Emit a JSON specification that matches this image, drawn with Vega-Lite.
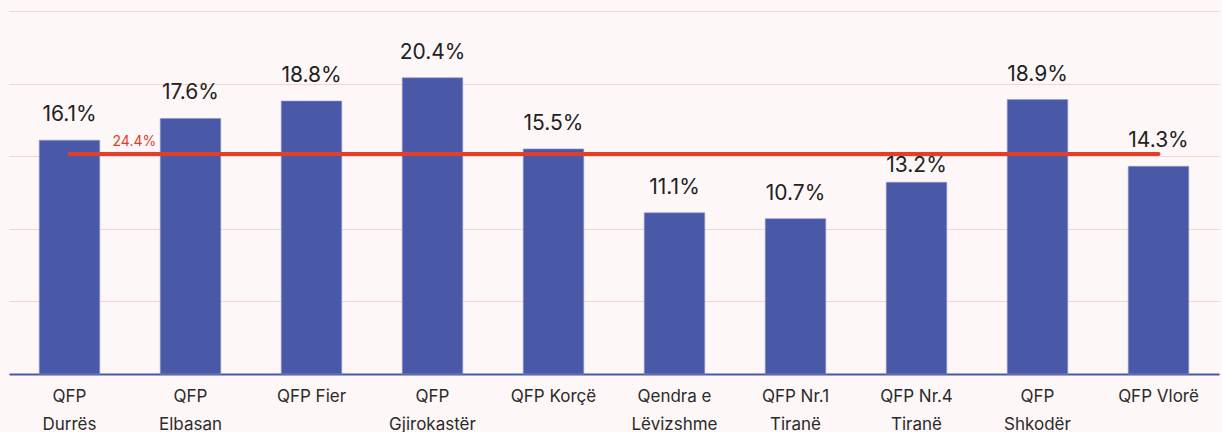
{
  "$schema": "https://vega.github.io/schema/vega-lite/v6.json",
  "width": 1210,
  "height": 363,
  "padding": {"left": 9, "top": 11, "right": 3, "bottom": 0},
  "background": "#fdf7f7",
  "config": {
    "view": {"stroke": null},
    "font": "Inter"
  },
  "datasets": {
    "bars": [
      {"cat": "QFP|Durrës", "value": 16.1, "label": "16.1%"},
      {"cat": "QFP|Elbasan", "value": 17.6, "label": "17.6%"},
      {"cat": "QFP Fier", "value": 18.8, "label": "18.8%"},
      {"cat": "QFP|Gjirokastër", "value": 20.4, "label": "20.4%"},
      {"cat": "QFP Korçë", "value": 15.5, "label": "15.5%"},
      {"cat": "Qendra e|Lëvizshme", "value": 11.1, "label": "11.1%"},
      {"cat": "QFP Nr.1|Tiranë", "value": 10.7, "label": "10.7%"},
      {"cat": "QFP Nr.4|Tiranë", "value": 13.2, "label": "13.2%"},
      {"cat": "QFP|Shkodër", "value": 18.9, "label": "18.9%"},
      {"cat": "QFP Vlorë", "value": 14.3, "label": "14.3%"}
    ],
    "avg": [
      {"start": "QFP|Durrës", "end": "QFP Vlorë", "value": 15.15, "label": "24.4%"}
    ]
  },
  "layer": [
    {
      "data": {"name": "bars"},
      "mark": {"type": "bar", "color": "#4a59a7", "stroke": "#8d97cc", "strokeWidth": 0.6},
      "encoding": {
        "x": {
          "field": "cat", "type": "nominal", "sort": null,
          "scale": {"paddingInner": 0.5, "paddingOuter": 0.25},
          "axis": {
            "title": null, "labelAngle": 0, "ticks": false,
            "labelExpr": "split(datum.label, '|')",
            "labelFontSize": 17, "labelColor": "#2b2b2b", "labelPadding": 14,
            "labelLineHeight": 28, "labelFont": "Inter",
            "domainColor": "#4a59a7", "domainWidth": 2
          }
        },
        "y": {
          "field": "value", "type": "quantitative",
          "scale": {"domain": [0, 25], "nice": false},
          "axis": {
            "title": null, "labels": false, "ticks": false, "domain": false,
            "values": [0, 5, 10, 15, 20, 25],
            "gridColor": "#f6d2d2", "gridWidth": 1
          }
        }
      }
    },
    {
      "data": {"name": "bars"},
      "transform": [{"filter": "datum.value != 13.2"}],
      "mark": {"type": "text", "baseline": "alphabetic", "dy": -19, "fontSize": 21, "color": "#222222", "font": "Inter"},
      "encoding": {
        "x": {"field": "cat", "type": "nominal", "sort": null},
        "y": {"field": "value", "type": "quantitative"},
        "text": {"field": "label"}
      }
    },
    {
      "data": {"name": "bars"},
      "transform": [{"filter": "datum.value == 13.2"}],
      "mark": {"type": "text", "baseline": "alphabetic", "dy": -10, "fontSize": 21, "color": "#222222", "font": "Inter"},
      "encoding": {
        "x": {"field": "cat", "type": "nominal", "sort": null},
        "y": {"field": "value", "type": "quantitative"},
        "text": {"field": "label"}
      }
    },
    {
      "data": {"name": "avg"},
      "mark": {"type": "rule", "color": "#e0402a", "strokeWidth": 4, "strokeCap": "round"},
      "encoding": {
        "x": {"field": "start", "type": "nominal", "sort": null},
        "x2": {"field": "end"},
        "y": {"field": "value", "type": "quantitative"}
      }
    },
    {
      "data": {"name": "avg"},
      "mark": {"type": "text", "align": "left", "baseline": "alphabetic", "dx": 43, "dy": -8, "fontSize": 14, "color": "#e0402a", "font": "Inter"},
      "encoding": {
        "x": {"field": "start", "type": "nominal", "sort": null},
        "y": {"field": "value", "type": "quantitative"},
        "text": {"field": "label"}
      }
    }
  ]
}
